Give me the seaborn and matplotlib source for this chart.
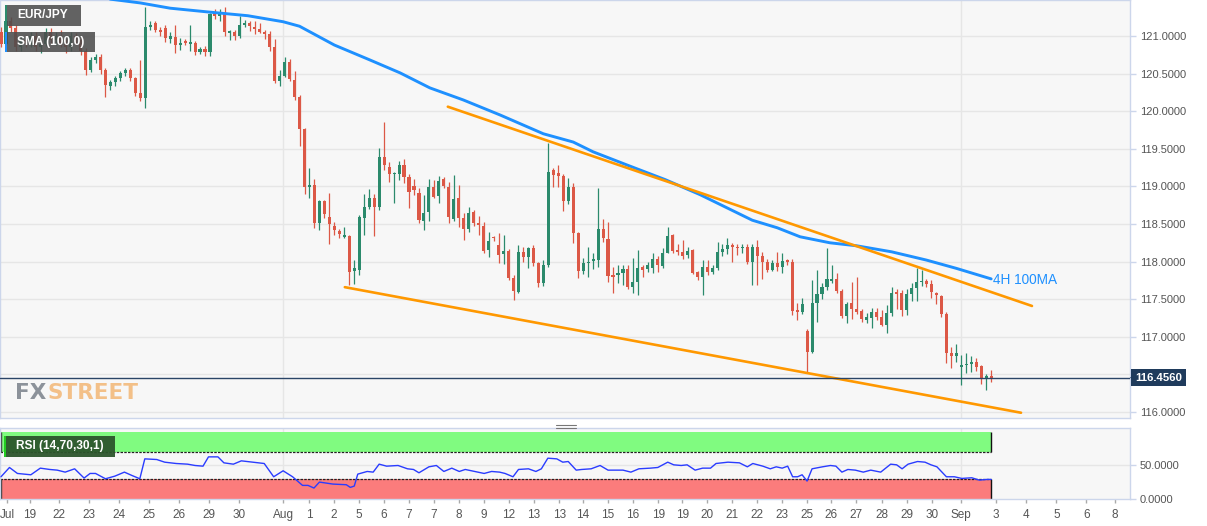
import matplotlib
matplotlib.use("Agg")
import numpy as np
import pandas as pd
import seaborn as sns
import matplotlib.pyplot as plt
from matplotlib.patches import Rectangle, Polygon
from matplotlib.lines import Line2D
import matplotlib.transforms as mtrans

# ---------------- data ----------------
opens = [121.05, 120.90, 121.20, 121.10, 120.85, 120.95, 120.90, 121.00, 120.85, 120.90,
         121.05, 120.95, 121.00, 120.90, 120.85, 121.00, 120.95, 120.80, 120.55, 120.68,
         120.72, 120.55, 120.33, 120.39, 120.44, 120.51, 120.55, 120.44, 120.24, 120.18,
         121.12, 121.17, 121.08, 121.11, 120.96, 120.99, 120.88, 120.93, 120.90, 120.91,
         120.79, 120.83, 120.79, 121.31, 121.27, 121.31, 121.04, 121.05, 121.00, 121.15,
         121.17, 121.12, 121.09, 121.05, 121.03, 120.85, 120.40, 120.47, 120.65, 120.42,
         120.19, 119.76, 118.99, 119.02, 118.51, 118.80, 118.59, 118.47, 118.41, 118.33,
         118.34, 117.87, 117.89, 118.58, 118.73, 118.85, 118.73, 119.39, 119.26, 119.16,
         119.16, 119.29, 119.12, 119.00, 118.91, 118.54, 118.66, 118.99, 118.87, 119.10,
         118.99, 118.57, 118.84, 118.58, 118.43, 118.66, 118.51, 118.47, 118.15, 118.32,
         118.22, 118.10, 118.14, 117.78, 117.60, 118.13, 118.06, 118.18, 117.98, 117.72,
         117.95, 119.22, 119.18, 119.14, 118.81, 118.99, 118.38, 117.87, 117.98, 118.01,
         118.02, 118.43, 118.30, 117.82, 117.82, 117.85, 117.90, 117.66, 117.73, 117.93,
         117.90, 117.92, 118.04, 117.94, 118.12, 118.35, 118.15, 118.13, 118.09, 118.16,
         117.86, 117.80, 117.93, 117.86, 117.91, 118.13, 118.17, 118.22, 118.20, 118.18,
         118.20, 117.99, 118.19, 118.07, 117.99, 117.89, 117.98, 117.93, 118.02, 117.99,
         117.36, 117.33, 117.08, 116.80, 117.45, 117.57, 117.66, 117.74, 117.77, 117.61,
         117.28, 117.45, 117.37, 117.34, 117.22, 117.25, 117.33, 117.26, 117.16, 117.32,
         117.59, 117.58, 117.36, 117.57, 117.65, 117.73, 117.74, 117.70, 117.58, 117.54,
         117.30, 116.78, 116.74, 116.60, 116.62, 116.64, 116.66, 116.61, 116.45, 116.48]

highs = [121.12, 121.28, 121.25, 121.14, 121.00, 121.02, 121.05, 121.06, 120.95, 121.10,
         121.10, 121.05, 121.08, 120.96, 121.05, 121.04, 121.00, 120.84, 120.72, 120.76,
         120.76, 120.58, 120.42, 120.47, 120.54, 120.58, 120.58, 120.46, 120.68, 121.39,
         121.20, 121.20, 121.12, 121.15, 121.05, 121.15, 120.97, 120.96, 121.15, 120.94,
         120.86, 120.87, 121.30, 121.36, 121.36, 121.39, 121.08, 121.08, 121.26, 121.21,
         121.20, 121.20, 121.17, 121.08, 121.07, 120.96, 120.55, 120.72, 120.69, 120.54,
         120.22, 119.78, 119.24, 119.10, 118.82, 118.82, 118.91, 118.52, 118.44, 118.46,
         118.36, 118.02, 118.62, 118.90, 118.96, 118.90, 119.51, 119.86, 119.32, 119.19,
         119.34, 119.36, 119.17, 119.10, 118.98, 118.88, 119.10, 119.08, 119.14, 119.12,
         119.06, 119.15, 119.02, 118.64, 118.72, 118.68, 118.60, 118.52, 118.39, 118.34,
         118.38, 118.35, 118.17, 117.82, 118.22, 118.19, 118.20, 118.22, 118.00, 118.02,
         119.58, 119.25, 119.28, 119.16, 119.11, 119.04, 118.40, 118.05, 118.19, 118.12,
         118.98, 118.57, 118.53, 117.93, 117.95, 117.95, 117.95, 118.05, 118.15, 117.96,
         118.00, 118.12, 118.08, 118.18, 118.46, 118.37, 118.23, 118.29, 118.20, 118.17,
         117.88, 118.02, 118.02, 117.95, 118.26, 118.23, 118.31, 118.25, 118.24, 118.24,
         118.24, 118.24, 118.29, 118.13, 118.03, 118.02, 118.13, 118.11, 118.04, 118.03,
         117.45, 117.52, 117.10, 117.76, 117.89, 117.72, 118.18, 117.95, 117.85, 117.63,
         117.46, 117.73, 117.80, 117.37, 117.32, 117.38, 117.38, 117.35, 117.42, 117.66,
         117.63, 117.62, 117.64, 117.72, 117.91, 117.89, 117.77, 117.75, 117.59, 117.55,
         117.33, 116.86, 116.90, 116.76, 116.78, 116.75, 116.72, 116.63, 116.51, 116.56]

lows = [120.85, 120.88, 121.05, 120.80, 120.80, 120.85, 120.86, 120.80, 120.78, 120.87,
        120.90, 120.88, 120.85, 120.78, 120.80, 120.88, 120.75, 120.48, 120.52, 120.64,
        120.49, 120.19, 120.28, 120.34, 120.40, 120.47, 120.40, 120.20, 120.14, 120.04,
        121.08, 121.05, 121.00, 120.92, 120.91, 120.77, 120.82, 120.88, 120.80, 120.75,
        120.76, 120.74, 120.74, 121.22, 121.20, 121.00, 120.95, 120.95, 120.98, 121.12,
        121.07, 121.03, 121.04, 120.96, 120.80, 120.38, 120.33, 120.45, 120.40, 120.15,
        119.54, 118.90, 118.85, 118.45, 118.42, 118.58, 118.23, 118.35, 118.32, 118.31,
        117.69, 117.70, 117.82, 118.35, 118.70, 118.34, 118.69, 119.22, 119.06, 118.78,
        119.08, 119.05, 118.71, 118.88, 118.51, 118.42, 118.54, 118.84, 118.78, 118.98,
        118.51, 118.54, 118.46, 118.29, 118.40, 118.47, 118.35, 118.12, 118.06, 118.27,
        117.98, 117.97, 117.76, 117.49, 117.58, 117.99, 117.91, 117.94, 117.66, 117.68,
        117.93, 118.99, 118.99, 118.67, 118.77, 118.25, 117.78, 117.84, 117.79, 117.90,
        117.93, 118.26, 117.73, 117.58, 117.71, 117.69, 117.63, 117.58, 117.55, 117.80,
        117.86, 117.85, 117.86, 117.92, 118.11, 118.11, 118.09, 118.04, 118.05, 117.83,
        117.76, 117.56, 117.82, 117.83, 117.89, 118.08, 118.10, 117.99, 118.09, 118.12,
        117.97, 117.69, 117.69, 117.77, 117.86, 117.87, 117.88, 117.85, 117.95, 117.29,
        117.22, 117.30, 116.52, 116.78, 117.20, 117.50, 117.62, 117.71, 117.58, 117.25,
        117.18, 117.24, 117.30, 117.20, 117.18, 117.12, 117.22, 117.14, 117.05, 117.27,
        117.37, 117.28, 117.29, 117.47, 117.48, 117.68, 117.66, 117.52, 117.43, 117.26,
        116.65, 116.59, 116.67, 116.36, 116.52, 116.53, 116.54, 116.37, 116.29, 116.40]

closes = [120.90, 121.20, 121.10, 120.85, 120.95, 120.90, 121.00, 120.85, 120.90, 121.05,
          120.95, 121.00, 120.90, 120.85, 121.00, 120.95, 120.80, 120.55, 120.68, 120.72,
          120.55, 120.35, 120.39, 120.44, 120.51, 120.55, 120.44, 120.24, 120.18, 121.12,
          121.15, 121.08, 121.05, 120.97, 121.00, 120.88, 120.91, 120.91, 120.92, 120.79,
          120.83, 120.79, 121.29, 121.27, 121.31, 121.05, 121.07, 121.00, 121.15, 121.17,
          121.13, 121.09, 121.05, 121.03, 120.85, 120.40, 120.47, 120.65, 120.43, 120.19,
          119.76, 118.99, 119.02, 118.51, 118.80, 118.63, 118.50, 118.42, 118.37, 118.35,
          117.86, 117.92, 118.59, 118.73, 118.85, 118.73, 119.39, 119.28, 119.16, 119.18,
          119.28, 119.12, 118.93, 118.95, 118.55, 118.64, 118.99, 118.86, 119.07, 119.00,
          118.59, 118.83, 118.58, 118.43, 118.65, 118.51, 118.49, 118.14, 118.27, 118.31,
          118.09, 118.14, 117.78, 117.61, 118.13, 118.06, 118.18, 117.98, 117.72, 117.95,
          119.19, 119.15, 119.14, 118.81, 118.99, 118.38, 117.87, 117.98, 118.00, 118.03,
          118.43, 118.31, 117.81, 117.80, 117.85, 117.90, 117.66, 117.73, 117.91, 117.89,
          117.95, 118.04, 117.95, 118.12, 118.34, 118.14, 118.13, 118.07, 118.14, 117.85,
          117.80, 117.93, 117.86, 117.91, 118.13, 118.17, 118.22, 118.19, 118.18, 118.20,
          117.99, 118.20, 118.08, 117.99, 117.89, 117.98, 117.93, 118.01, 117.99, 117.34,
          117.33, 117.44, 116.80, 117.45, 117.57, 117.66, 117.77, 117.77, 117.61, 117.28,
          117.44, 117.37, 117.33, 117.23, 117.26, 117.33, 117.26, 117.16, 117.32, 117.58,
          117.57, 117.36, 117.57, 117.65, 117.73, 117.74, 117.70, 117.59, 117.55, 117.30,
          116.78, 116.74, 116.78, 116.63, 116.64, 116.66, 116.60, 116.45, 116.48, 116.456]

sma_pos = [20, 22, 28, 34, 41.6, 49.6, 56.7, 60, 67, 74.2, 80.2, 86.2, 92.9, 100.3, 109,
           115, 119, 126, 133.5, 140.5, 151, 156, 160.6, 166.6, 172, 179, 186, 192, 199]
sma_val = [121.53, 121.49, 121.44, 121.37, 121.32, 121.27, 121.19, 121.13, 120.88, 120.68,
           120.51, 120.31, 120.15, 119.95, 119.70, 119.59, 119.46, 119.28, 119.09, 118.89,
           118.55, 118.45, 118.33, 118.25, 118.21, 118.13, 118.02, 117.91, 117.77]

upper_pos = [89.8, 207.2]
upper_val = [120.06, 117.41]
lower_pos = [69.1, 205.0]
lower_val = [117.66, 115.99]

rsi_pos = [0, 1.7, 3.3, 6, 7.9, 9.8, 11.3, 12.9, 14.8, 16.7,
           17.9, 19, 21, 22.9, 24.8, 26.3, 27.9, 28.9, 31.3, 32.9,
           35.2, 37.5, 39, 40.6, 41.7, 43.6, 44.8, 46.7, 48.3, 50.6,
           52.9, 54.8, 56.7, 58.6, 60.6, 61.7, 62.9, 64, 66.7, 69.4,
           70.2, 71, 71.7, 73.6, 74.8, 76, 77.5, 79.8, 81.7, 82.9,
           84, 86, 87.5, 89, 90.6, 92.1, 93.3, 95.2, 97.1, 98.6,
           100.2, 101.3, 102.9, 104, 106, 107.5, 108.6, 109.9, 111.7, 112.9,
           114, 115.6, 116.7, 118.6, 120.4, 122, 125, 126.6, 128.2, 130.5,
           132, 134, 135.2, 136.7, 137.9, 139.5, 141, 142.6, 143.7, 146.1,
           148.4, 150, 151.1, 153.1, 154.6, 155.8, 157, 158.1, 159.1, 160.1,
           161, 162, 163, 165.1, 166.7, 167.8, 169, 170.2, 171.7, 173.3,
           174.8, 176.8, 178.8, 180, 181.1, 182.3, 184.2, 185.7, 186.9, 188.1,
           190, 191.6, 193.1, 195.1, 196.6, 198.2, 199]
rsi_val = [33, 47, 38, 36, 46, 44, 43, 40, 45, 31,
           38, 38, 30, 34, 40, 35, 30, 60, 59, 55,
           53, 52, 50, 49, 63, 63, 54, 52, 57, 55,
           53, 33, 42, 33, 20, 20, 16, 25, 22, 21,
           17, 19, 37, 41, 40, 52, 49, 50, 45, 44,
           39, 48, 50, 41, 46, 41, 44, 41, 38, 41,
           40, 38, 33, 44, 45, 41, 45, 61, 60, 55,
           56, 43, 44, 45, 50, 43, 43, 40, 45, 46,
           47, 55, 51, 50, 51, 43, 46, 46, 53, 55,
           54, 48, 53, 49, 45, 48, 46, 49, 33, 33,
           36, 26.5, 45, 48, 50, 49, 40, 44, 43, 40,
           43, 40, 52, 51, 45, 52, 56, 55, 51, 48,
           33, 33, 30.5, 31.5, 28, 29, 29]

tick_pos = [1.2, 5.8, 11.7, 17.7, 23.8, 29.7, 35.8, 41.8, 47.8, 56.7, 61.9, 66.9, 72, 77,
            82, 87, 92, 97.1, 102.1, 107.1, 112.2, 117, 122, 127, 132.1, 136.9, 141.9,
            146.9, 152, 157, 162, 166.8, 171.9, 177.1, 182.1, 187.1, 193, 200, 206,
            212.1, 218.1, 223.9]
tick_labels = ["Jul", "19", "22", "23", "24", "25", "26", "29", "30", "Aug", "1", "2", "5",
               "6", "7", "7", "8", "9", "12", "13", "13", "14", "15", "16", "19", "19",
               "20", "21", "22", "23", "25", "26", "27", "28", "29", "30", "Sep", "3",
               "4", "5", "6", "8"]
month_pos = [56.7, 193]

last_price = 116.456
price_ticks = [116.0, 116.5, 117.0, 117.5, 118.0, 118.5, 119.0, 119.5, 120.0, 120.5, 121.0]

# ---------------- style ----------------
sns.set_theme(style="white")
plt.rcParams['font.family'] = ['Liberation Sans', 'DejaVu Sans']

GREEN = '#2b8a6c'
RED = '#dc5846'
SPINE = '#ccd6eb'
GRID = '#e6e6e6'
BG = '#f7f7f7'
TXT = '#555555'

W, H = 1207, 526
def fx(px):
    return px / W
def fy(py):
    return 1 - py / H

fig = plt.figure(figsize=(W / 100, H / 100), dpi=100)
fig.patch.set_facecolor('white')
ax = fig.add_axes([0, fy(418), fx(1130), 418 / H])
axr = fig.add_axes([0, fy(499), fx(1130), (499 - 428) / H])

XL = (-0.2, 226.9)

for a in (ax, axr):
    a.set_facecolor(BG)
    for s in a.spines.values():
        s.set_color(SPINE)
        s.set_linewidth(1)
    a.set_xlim(*XL)
    for m in month_pos:
        a.axvline(m, color=GRID, lw=1, zorder=0)

# ---- main panel ----
ax.set_ylim(115.92, 121.479)
for v in price_ticks:
    ax.axhline(v, color=GRID, lw=1, zorder=0)

df = pd.DataFrame({'o': opens, 'h': highs, 'l': lows, 'c': closes})
df['x'] = np.arange(len(df))
up = df['c'] >= df['o']
cols = np.where(up, GREEN, RED)
ax.vlines(df['x'], df['l'], df['h'], colors=cols, linewidth=0.9, zorder=3)
body_bot = np.minimum(df['o'], df['c'])
body_h = np.maximum((df['c'] - df['o']).abs(), 0.018)
ax.bar(df['x'], body_h, bottom=body_bot, width=0.62, color=cols, linewidth=0, zorder=4)

sns.lineplot(x=sma_pos, y=sma_val, ax=ax, color='#1e90ff', linewidth=2.1, zorder=5)
sns.lineplot(x=upper_pos, y=upper_val, ax=ax, color='#ff9800', linewidth=1.9, zorder=5)
sns.lineplot(x=lower_pos, y=lower_val, ax=ax, color='#ff9800', linewidth=1.9, zorder=5)
ax.text(sma_pos[-1] + 0.3, sma_val[-1] - 0.015, '4H 100MA', color='#1e90ff',
        fontsize=9.8, ha='left', va='center', zorder=6)

ax.axhline(last_price, color='#2a4466', lw=1, zorder=6)

ax.set_xticks([])
ax.yaxis.tick_right()
ax.set_yticks(price_ticks)
# the 116.5 label sits behind the current-price tag in the reference
ax.set_yticklabels(['' if abs(v - 116.5) < 1e-9 else f'{v:.4f}' for v in price_ticks])
ax.tick_params(axis='y', right=True, length=4, width=1, color=SPINE, labelsize=8,
               labelcolor=TXT, pad=3)
ax.set_xlabel('')
ax.set_ylabel('')

trans = mtrans.blended_transform_factory(ax.transAxes, ax.transData)
ax.text(1.0045, last_price, '116.4560', transform=trans, ha='left', va='center',
        color='white', fontsize=8.2, fontweight='bold', zorder=10, clip_on=False,
        bbox=dict(boxstyle='square,pad=0.32', fc='#1f3b5c', ec='none'))
ax.add_patch(Polygon([(1.0, last_price), (1.0045, last_price + 0.055),
                      (1.0045, last_price - 0.055)], closed=True, transform=trans,
                     fc='#1f3b5c', ec='none', clip_on=False, zorder=10))

# ---- RSI panel ----
axr.set_ylim(-0.5, 106.5)
axr.axhline(50, color=GRID, lw=1, zorder=0)
last_x = len(closes) - 1
axr.fill_between([XL[0], last_x], 70, 100, color='#80fb80', lw=0, zorder=1)
axr.fill_between([XL[0], last_x], 0, 30, color='#fb7c7c', lw=0, zorder=1)
axr.hlines([70, 30], XL[0], last_x, colors='#222222', linestyles=(0, (2, 1)), lw=0.9, zorder=2)
axr.vlines([last_x, last_x], [70, 0], [100, 30], colors='#111111', lw=1, zorder=2)
axr.vlines([0.05, 0.05], [70, 0], [100, 30], colors='#333333', lw=1, zorder=2)
sns.lineplot(x=rsi_pos, y=rsi_val, ax=axr, color='#2a3cff', linewidth=1.0, zorder=4)
axr.set_xlabel('')
axr.set_ylabel('')
axr.yaxis.tick_right()
axr.set_yticks([0, 50])
axr.set_yticklabels(['0.0000', '50.0000'])
axr.tick_params(axis='y', right=True, length=4, width=1, color=SPINE, labelsize=8,
                labelcolor=TXT, pad=3)
axr.set_xticks(tick_pos)
axr.set_xticklabels(tick_labels)
axr.tick_params(axis='x', bottom=True, length=3, width=1, color='#aaaaaa', labelsize=8.5,
                labelcolor=TXT, pad=4)

# ---- overlay labels ----
def label_box(x0, y0, x1, y1, stripe, face, text, alpha=0.88):
    fig.add_artist(Rectangle((fx(x0), fy(y1)), fx(x1) - fx(x0), (y1 - y0) / H,
                             transform=fig.transFigure, fc=face, ec='none', alpha=alpha, zorder=20))
    fig.add_artist(Rectangle((fx(x0), fy(y1)), fx(2.2), (y1 - y0) / H,
                             transform=fig.transFigure, fc=stripe, ec='none', zorder=21))
    fig.text(fx(x0 + 12), fy((y0 + y1) / 2), text, color='white', fontsize=8.6,
             fontweight='bold', ha='left', va='center', zorder=22)

label_box(5, 5, 81, 26, '#2b8a6c', '#4d4d4d', 'EUR/JPY')
label_box(5, 32, 95, 52, '#1e90ff', '#4d4d4d', 'SMA (100,0)')
label_box(4, 436, 115, 457, '#22cc22', '#2c552c', 'RSI (14,70,30,1)', alpha=0.95)

# FXSTREET watermark ("STREET" placed right after the rendered "FX")
fx_txt = fig.text(fx(15), fy(399), 'FX', color='#8c929a', fontsize=15.5, fontweight='bold',
                  family='DejaVu Sans', ha='left', va='baseline', zorder=15)
fig.texts.append(None) if False else None
street = matplotlib.text.Annotation('STREET', xy=(1.0, 0.0), xycoords=fx_txt,
                                    xytext=(0.5, 0), textcoords='offset points',
                                    color='#f3c088', fontsize=15.5, fontweight='bold',
                                    family='DejaVu Sans', ha='left', va='bottom', zorder=15)
fig.add_artist(street)

# panel separator handle
for yy in (424.5, 427.5):
    fig.add_artist(Line2D([fx(556), fx(576)], [fy(yy), fy(yy)], color='#777777', lw=0.8,
                          transform=fig.transFigure))

fig.savefig('out.png', dpi=100, facecolor='white')
